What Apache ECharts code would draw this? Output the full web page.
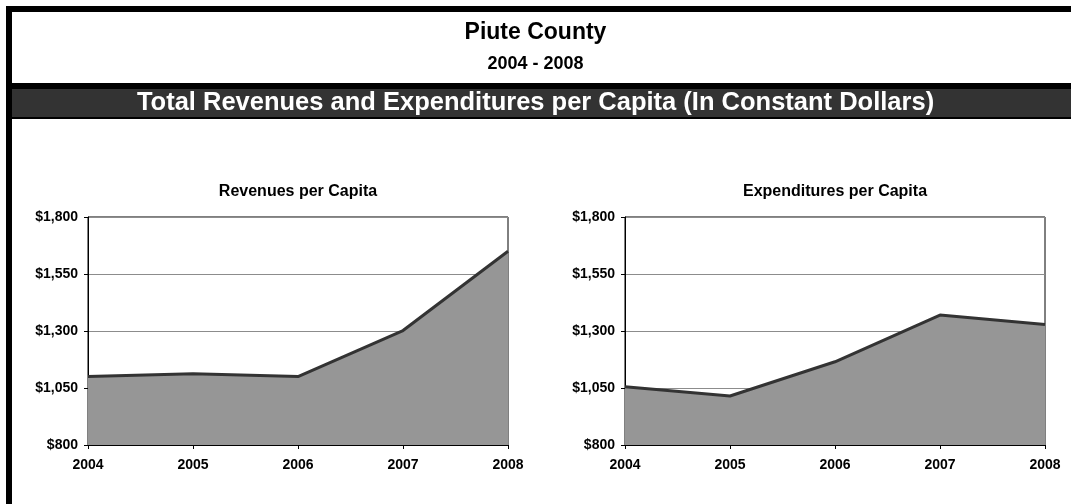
<!DOCTYPE html>
<html>
<head>
<meta charset="utf-8">
<script src="https://cdn.jsdelivr.net/npm/echarts@6/dist/echarts.min.js"></script>
<style>
  html, body { margin: 0; padding: 0; background: #fff; }
  #chart { width: 1071px; height: 504px; }
</style>
</head>
<body>
<div id="chart"></div>
<script>
// data
const years = ['2004', '2005', '2006', '2007', '2008'];
const revenues = [1100, 1113, 1100, 1302, 1650];
const expenditures = [1055, 1015, 1165, 1370, 1328];
const yTicks = [800, 1050, 1300, 1550, 1800];

const FONT = '"Liberation Sans", Arial, sans-serif';

const money = v => '$' + v.toLocaleString('en-US');

const chart = echarts.init(document.getElementById('chart'), null, { renderer: 'canvas' });

// one x/y axis pair per panel
const xAxisFor = idx => ({
  type: 'category',
  gridIndex: idx,
  data: years,
  boundaryGap: false,
  axisLine: { lineStyle: { color: '#000', width: 1 } },
  axisTick: { show: true, length: 4, lineStyle: { color: '#000' } },
  axisLabel: { color: '#000', fontFamily: FONT, fontWeight: 'bold', fontSize: 14, margin: 13 },
  splitLine: { show: false }
});

const yAxisFor = idx => ({
  type: 'value',
  gridIndex: idx,
  min: yTicks[0],
  max: yTicks[yTicks.length - 1],
  interval: yTicks[1] - yTicks[0],
  axisLine: { show: true, lineStyle: { color: '#000', width: 1 } },
  axisTick: { show: true, length: 4, lineStyle: { color: '#000' } },
  axisLabel: { color: '#000', fontFamily: FONT, fontWeight: 'bold', fontSize: 14, margin: 10, formatter: money },
  splitLine: { show: true, lineStyle: { color: '#8c8c8c', width: 1 } }
});

const areaSeries = (idx, vals) => ({
  type: 'line',
  xAxisIndex: idx,
  yAxisIndex: idx,
  data: vals,
  symbol: 'none',
  lineStyle: { color: '#333', width: 3 },
  areaStyle: { color: '#969696', opacity: 1 },
  z: 3
});

const option = {
  animation: false,
  backgroundColor: '#fff',
  title: [
    { text: 'Piute County', left: 'center', top: 21, padding: 0,
      textStyle: { fontFamily: FONT, fontSize: 23, fontWeight: 'bold', color: '#000' } },
    { text: '2004 - 2008', left: 'center', top: 55, padding: 0,
      textStyle: { fontFamily: FONT, fontSize: 18, fontWeight: 'bold', color: '#000' } },
    { text: 'Total Revenues and Expenditures per Capita (In Constant Dollars)', left: 'center', top: 90, padding: 0,
      textStyle: { fontFamily: FONT, fontSize: 25.5, fontWeight: 'bold', color: '#fff' } },
    { text: 'Revenues per Capita', left: 298, top: 184, padding: 0, textAlign: 'center',
      textStyle: { fontFamily: FONT, fontSize: 16, fontWeight: 'bold', color: '#000' } },
    { text: 'Expenditures per Capita', left: 835, top: 184, padding: 0, textAlign: 'center',
      textStyle: { fontFamily: FONT, fontSize: 16, fontWeight: 'bold', color: '#000' } }
  ],
  graphic: [
    // outer frame pieces and the header band
    { type: 'rect', shape: { x: 6, y: 6, width: 1065, height: 6 }, style: { fill: '#000' }, z: -1 },
    { type: 'rect', shape: { x: 6, y: 6, width: 6, height: 498 }, style: { fill: '#000' }, z: -1 },
    { type: 'rect', shape: { x: 6, y: 83, width: 1065, height: 36 }, style: { fill: '#000' }, z: -1 },
    { type: 'rect', shape: { x: 12, y: 89, width: 1059, height: 28 }, style: { fill: '#333' }, z: -1 }
  ],
  grid: [
    { left: 88, right: 563, top: 217, bottom: 59, show: true, borderColor: '#000', borderWidth: 1, backgroundColor: 'transparent' },
    { left: 625, right: 26, top: 217, bottom: 59, show: true, borderColor: '#000', borderWidth: 1, backgroundColor: 'transparent' }
  ],
  xAxis: [xAxisFor(0), xAxisFor(1)],
  yAxis: [yAxisFor(0), yAxisFor(1)],
  series: [areaSeries(0, revenues), areaSeries(1, expenditures)]
};

chart.setOption(option);
</script>
</body>
</html>
